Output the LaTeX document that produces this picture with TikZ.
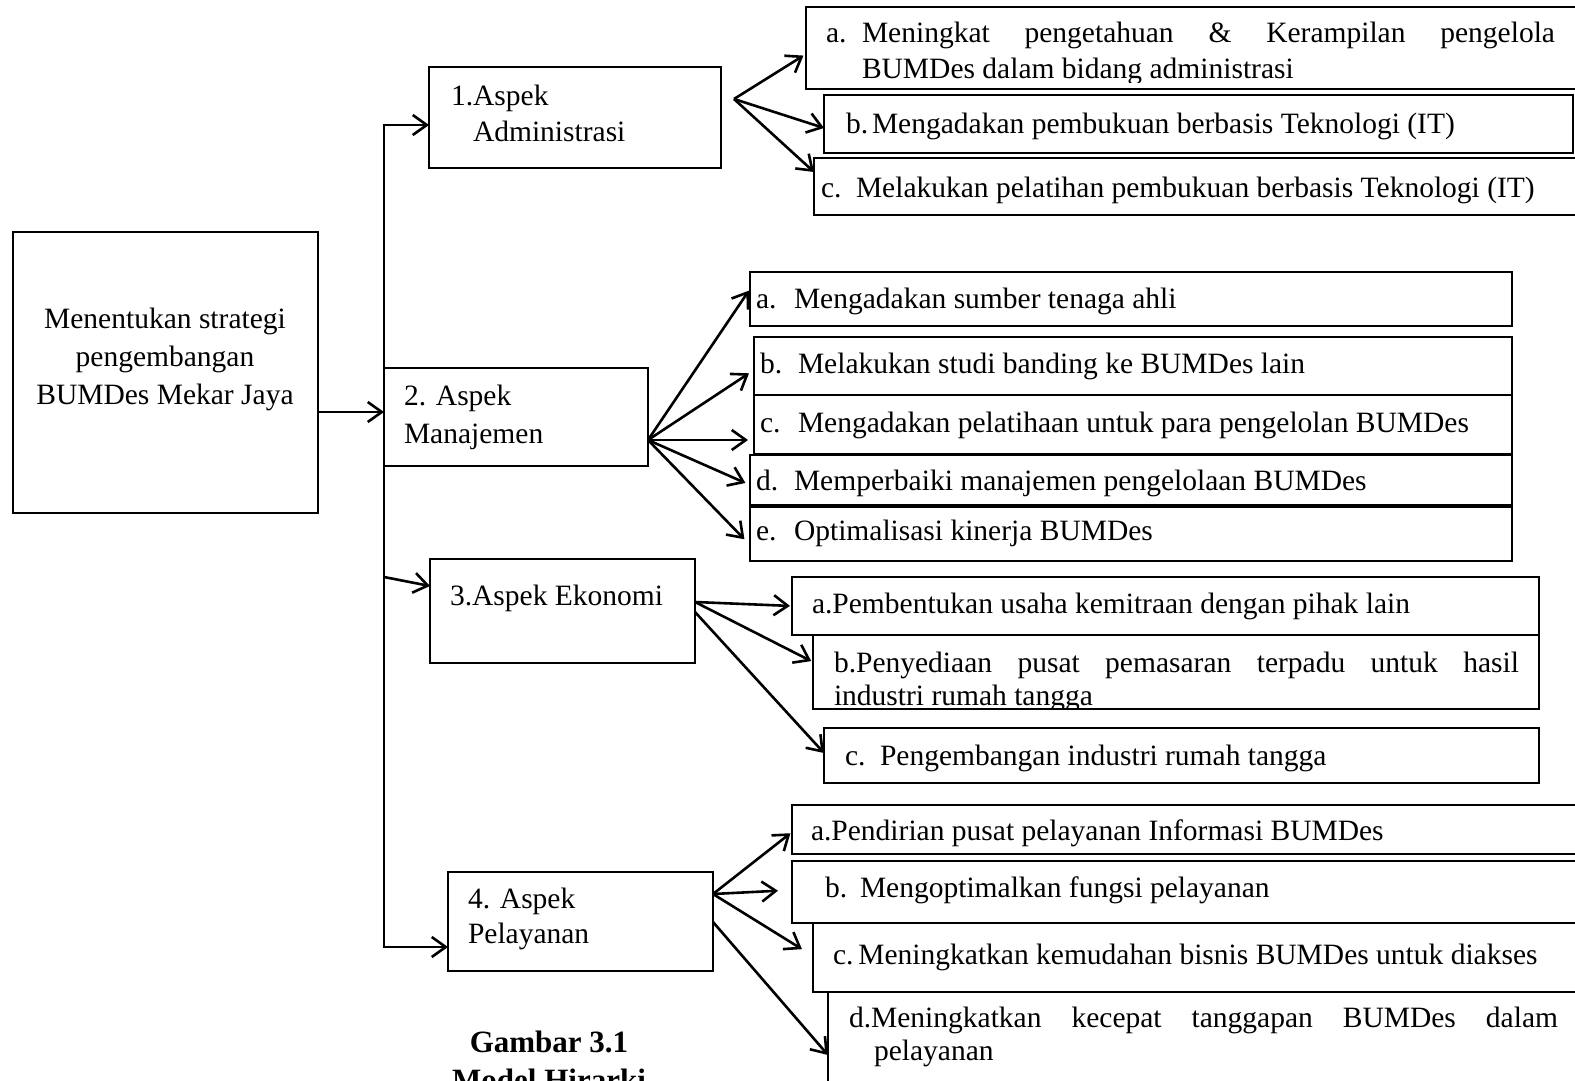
\documentclass[tikz,border=0pt]{standalone}
\usepackage{fontspec}
\setmainfont{Liberation Serif}
\usetikzlibrary{arrows.meta}
\newcommand\mybox[5]{\node[box,minimum width={(#4)-(#2)},minimum height={(#5)-(#3)}] (#1) at (#2,#3) {};}
\newcommand\mytx[4]{\node[txt] (#1) at (#2,#3) {#4};}
\begin{document}
\begin{tikzpicture}[x=1pt,y=-1pt,
  box/.style={draw=black,line width=1.6pt,fill=white,anchor=north west,inner sep=0pt,outer sep=0pt},
  txt/.style={anchor=base west,inner sep=0pt,outer sep=0pt,font=\fontsize{29.5}{34}\selectfont},
  ctxt/.style={anchor=base,inner sep=0pt,outer sep=0pt,font=\fontsize{29.5}{34}\selectfont},
  capt/.style={anchor=base,inner sep=0pt,outer sep=0pt,font=\bfseries\fontsize{31}{36}\selectfont},
  arr/.style={line width=2.6pt,-{Straight Barb[length=14pt,width=20pt]}},
  barr/.style={line width=2.6pt,{Straight Barb[length=14pt,width=20pt]}-{Straight Barb[length=14pt,width=20pt]}}]
\useasboundingbox (0,0) rectangle (1575,1081);
\clip (0,0) rectangle (1575,1081);
% boxes
\mybox{root}{13}{232}{318}{513}
\mybox{asp1}{429}{67}{721}{168}
\mybox{asp2}{384}{368}{648}{466}
\mybox{asp3}{430}{559}{695}{663}
\mybox{asp4}{448}{872}{713}{971}
\mybox{admA}{806}{7}{1600}{89}
\mybox{admB}{824}{95}{1573}{153}
\mybox{admC}{814}{158}{1600}{215}
\mybox{manA}{750}{272}{1512}{326}
\mybox{manB}{754}{337}{1512}{395}
\mybox{manC}{754}{395}{1512}{454}
\mybox{manD}{750}{455}{1512}{505}
\mybox{manE}{750}{507}{1512}{561}
\mybox{ekoA}{792}{577}{1539}{635}
\mybox{ekoB}{813}{635}{1539}{709}
\mybox{ekoC}{824}{728}{1539}{783}
\mybox{pelA}{792}{805}{1600}{854}
\mybox{pelB}{792}{861}{1600}{923}
\mybox{pelC}{813}{923}{1600}{992}
\mybox{pelD}{828}{992}{1600}{1100}
% texts
\node[ctxt] (r1) at (165,328) {Menentukan strategi};
\node[ctxt] (r2) at (165,366) {pengembangan};
\node[ctxt] (r3) at (165,404) {BUMDes Mekar Jaya};
\mytx{t1a}{451}{105}{1.Aspek}
\mytx{t1b}{473}{141}{Administrasi}
\mytx{t2a}{404}{405}{2. Aspek}
\mytx{t2b}{404}{443}{Manajemen}
\mytx{t3a}{450}{605}{3.Aspek Ekonomi}
\mytx{t4a}{468}{908}{4. Aspek}
\mytx{t4b}{468}{943}{Pelayanan}
% administrasi
\mytx{aAl}{826}{43}{a.}
\mytx{aA1}{862}{43}{\makebox[693pt][s]{Meningkat pengetahuan \& Kerampilan pengelola}}
\begin{scope}
\clip (806,7) rectangle (1600,83);
\mytx{aA2}{862}{78}{BUMDes dalam bidang administrasi}
\end{scope}
\mytx{aBl}{846}{133}{b.}
\mytx{aB1}{872}{133}{Mengadakan pembukuan berbasis Teknologi (IT)}
\mytx{aCl}{821}{197}{c.}
\mytx{aC1}{856}{197}{Melakukan pelatihan pembukuan berbasis Teknologi (IT)}
% manajemen
\mytx{mAl}{756}{308}{a.}
\mytx{mA1}{794}{308}{Mengadakan sumber tenaga ahli}
\mytx{mBl}{760}{373}{b.}
\mytx{mB1}{798}{373}{Melakukan studi banding ke BUMDes lain}
\mytx{mCl}{760}{432}{c.}
\mytx{mC1}{798}{432}{Mengadakan pelatihaan untuk para pengelolan BUMDes}
\begin{scope}
\clip (750,455) rectangle (1512,503);
\mytx{mDl}{756}{490}{d.}
\mytx{mD1}{794}{490}{Memperbaiki manajemen pengelolaan BUMDes}
\end{scope}
\mytx{mEl}{756}{540}{e.}
\mytx{mE1}{794}{540}{Optimalisasi kinerja BUMDes}
% ekonomi
\mytx{eA1}{812}{613}{a.Pembentukan usaha kemitraan dengan pihak lain}
\mytx{eB1}{834}{672}{\makebox[685pt][s]{b.Penyediaan pusat pemasaran terpadu untuk hasil}}
\begin{scope}
\clip (813,635) rectangle (1539,707);
\mytx{eB2}{834}{705}{industri rumah tangga}
\end{scope}
\mytx{eCl}{845}{765}{c.}
\mytx{eC1}{880}{765}{Pengembangan industri rumah tangga}
% pelayanan
\begin{scope}
\clip (792,805) rectangle (1600,846);
\mytx{pA1}{811}{840}{a.Pendirian pusat pelayanan Informasi BUMDes}
\end{scope}
\mytx{pBl}{825}{897}{b.}
\mytx{pB1}{860}{897}{Mengoptimalkan fungsi pelayanan}
\mytx{pC1}{833}{964}{c.\,Meningkatkan kemudahan bisnis BUMDes untuk diakses}
\mytx{pD1}{849}{1027}{\makebox[709pt][s]{d.Meningkatkan kecepat tanggapan BUMDes dalam}}
\mytx{pD2}{874}{1060}{pelayanan}
% caption
\node[capt] (cap1) at (549,1052) {Gambar 3.1};
\node[capt] (cap2) at (549,1090) {Model Hirarki};
% connectors
\coordinate (trunkT) at (384,125);
\coordinate (trunkB) at (384,947);
\coordinate (trunk3) at (384,577);
\draw[barr] (asp4.west |- trunkB) -- (trunkB) -- (trunkT) -- (asp1.west |- trunkT);
\draw[arr] (root.east |- 0,412) -- (asp2.west |- 0,412);
\draw[arr] (trunk3) -- (asp3.west |- 0,586);
\coordinate (admO) at (734,99);
\draw[arr,shorten >=3pt] (admO) -- (admA.west |- 0,54);
\draw[arr] (admO) -- (admB.west |- 0,128);
\draw[arr] (admO) -- (admC.west |- 0,172);
\coordinate (manO) at (648,440);
\draw[arr,shorten >=2pt] (manO) -- (manA.west |- 0,289);
\draw[arr,shorten >=6pt] (manO) -- (manB.west |- 0,370);
\draw[arr,shorten >=6pt] (manO) -- (manC.west |- 0,440);
\draw[arr,shorten >=5pt] (manO) -- (manD.west |- 0,485);
\draw[arr,shorten >=8pt] (manO) -- (manE.west |- 0,545);
\coordinate (ekoO) at (695,602);
\coordinate (ekoO2) at (695,612);
\draw[arr,shorten >=2pt] (ekoO) -- (ekoA.west |- 0,606);
\draw[arr,shorten >=2pt] (ekoO) -- (ekoB.west |- 0,662);
\draw[arr] (ekoO2) -- (ekoC.west |- 0,753);
\coordinate (pelO) at (713,894);
\coordinate (pelO2) at (713,922);
\draw[arr,shorten >=2pt] (pelO) -- (pelA.west |- 0,832);
\draw[arr,shorten >=14pt] (pelO) -- (pelB.west |- 0,890);
\draw[arr,shorten >=13pt] (pelO) -- (pelC.west |- 0,956);
\draw[arr] (pelO2) -- (pelD.west |- 0,1055);
\end{tikzpicture}
\end{document}
